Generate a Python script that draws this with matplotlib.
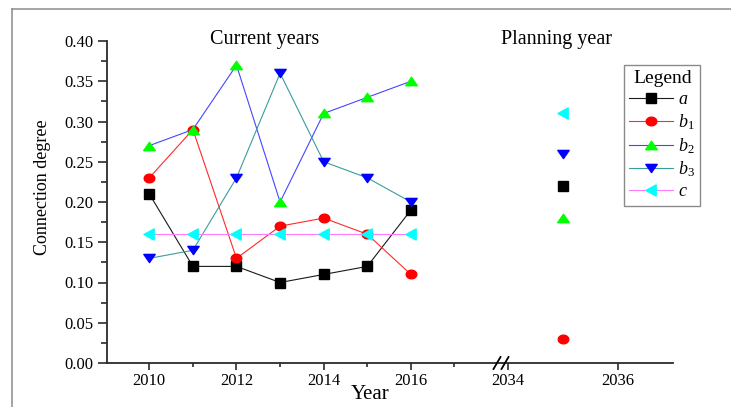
import numpy as np
import matplotlib
matplotlib.use("Agg")
import matplotlib.pyplot as plt
from matplotlib.path import Path
from matplotlib.lines import Line2D

# ---- data -------------------------------------------------------------
years_current = [2010, 2011, 2012, 2013, 2014, 2015, 2016]
year_planning = [2035]

a_current = [0.21, 0.12, 0.12, 0.10, 0.11, 0.12, 0.19]
b1_current = [0.23, 0.29, 0.13, 0.17, 0.18, 0.16, 0.11]
b2_current = [0.27, 0.29, 0.37, 0.20, 0.31, 0.33, 0.35]
b3_current = [0.13, 0.14, 0.23, 0.36, 0.25, 0.23, 0.20]
c_current = [0.16, 0.16, 0.16, 0.16, 0.16, 0.16, 0.16]

a_plan = [0.22]
b1_plan = [0.03]
b2_plan = [0.18]
b3_plan = [0.26]
c_plan = [0.31]

series_labels = [r"$a$", r"$b_1$", r"$b_2$", r"$b_3$", r"$c$"]
y_ticks = [0.00, 0.05, 0.10, 0.15, 0.20, 0.25, 0.30, 0.35, 0.40]
left_xticks = [2010, 2012, 2014, 2016]
left_minor = [2011, 2013, 2015, 2017]
right_xticks = [2034, 2036]

# ---- style ------------------------------------------------------------
plt.rcParams["font.family"] = ["Liberation Serif", "DejaVu Serif"]
plt.rcParams["mathtext.fontset"] = "custom"
plt.rcParams["mathtext.it"] = "Liberation Serif:italic"
plt.rcParams["mathtext.rm"] = "Liberation Serif"


def poly_marker(pts):
    pts = np.asarray(pts, float)
    verts = np.vstack([pts, pts[:1]])
    codes = [Path.MOVETO] + [Path.LINETO] * (len(pts) - 1) + [Path.CLOSEPOLY]
    return Path(verts, codes)


t = np.linspace(0, 2 * np.pi, 40, endpoint=False)
ellipse = poly_marker(np.column_stack([0.5 * np.cos(t), 0.41 * np.sin(t)]))
tri_up = poly_marker([(0, 0.36), (-0.5, -0.36), (0.5, -0.36)])
tri_down = poly_marker([(0, -0.36), (-0.5, 0.36), (0.5, 0.36)])
tri_left = poly_marker([(-0.5, 0), (0.42, 0.5), (0.42, -0.5)])

styles = [
    dict(color="#1a1a1a", marker="s", mfc="black", mec="black", ms=6.6),
    dict(color="#ff2a2a", marker=ellipse, mfc="red", mec="red", ms=7.6),
    dict(color="#4646ff", marker=tri_up, mfc="#00ff00", mec="#00ff00", ms=8.4),
    dict(color="#3a9c9c", marker=tri_down, mfc="#0000ff", mec="#0000ff", ms=8.2),
    dict(color="#ff7aff", marker=tri_left, mfc="#00ffff", mec="#00ffff", ms=8.0),
]
current = [a_current, b1_current, b2_current, b3_current, c_current]
planned = [a_plan, b1_plan, b2_plan, b3_plan, c_plan]

W, H = 731, 407
fig = plt.figure(figsize=(W / 100, H / 100), dpi=100)

x0, xb, x1 = 107, 502, 673
ytop, ybot = 41, 363
ax1 = fig.add_axes([x0 / W, 1 - ybot / H, (xb - x0) / W, (ybot - ytop) / H])
ax2 = fig.add_axes([xb / W, 1 - ybot / H, (x1 - xb) / W, (ybot - ytop) / H],
                   sharey=ax1)

handles = []
for vals, st in zip(current, styles):
    ln, = ax1.plot(years_current, vals, lw=0.8, clip_on=False, **st)
    handles.append(ln)
for vals, st in zip(planned, styles):
    ax2.plot(year_planning, vals, lw=0, clip_on=False, **st)

spine_c = "#2b2b2b"
ax1.set_xlim(2009.03, 2018.09)
ax2.set_xlim(2033.89, 2037.0)
ax1.set_ylim(0, 0.40)
ax1.set_yticks(y_ticks)
ax1.set_yticks(np.arange(0.025, 0.40, 0.05), minor=True)
ax1.set_yticklabels([f"{v:.2f}" for v in y_ticks])
ax1.set_xticks(left_xticks)
ax1.set_xticks(left_minor, minor=True)
ax2.set_xticks(right_xticks)

for ax in (ax1, ax2):
    for s in ("top", "right"):
        ax.spines[s].set_visible(False)
    ax.spines["bottom"].set_color(spine_c)
    ax.spines["bottom"].set_linewidth(1.3)
    ax.tick_params(axis="x", which="major", direction="out", length=5,
                   width=1.2, color=spine_c, labelsize=12, pad=2)
    ax.tick_params(axis="x", which="minor", direction="out", length=3,
                   width=1.2, color=spine_c)
ax1.spines["left"].set_color(spine_c)
ax1.spines["left"].set_linewidth(1.3)
ax2.spines["left"].set_visible(False)
ax1.tick_params(axis="y", which="major", direction="out", length=6.5,
                width=1.2, color=spine_c, labelsize=12, pad=3)
ax1.tick_params(axis="y", which="minor", direction="out", length=4,
                width=1.2, color=spine_c)
ax2.tick_params(axis="y", which="both", left=False, labelleft=False)

ax1.set_ylabel("Connection degree", fontsize=13)
ax1.yaxis.set_label_coords(-0.142, 0.547)
fig.text(370 / W, 1 - 399 / H, "Year", fontsize=15, ha="center",
         va="baseline")

ax1.text(0.40, 0.99, "Current years", transform=ax1.transAxes,
         fontsize=14.5, ha="center", va="baseline", clip_on=False)
ax2.text(0.316, 0.99, "Planning year", transform=ax2.transAxes,
         fontsize=14.5, ha="center", va="baseline", clip_on=False)

# axis-break marks on the x axis
for cx in (497, 505):
    fig.add_artist(Line2D([(cx - 3.5) / W, (cx + 3.5) / W],
                          [1 - (ybot + 6) / H, 1 - (ybot - 6) / H],
                          transform=fig.transFigure, color="black", lw=1.3))

leg = fig.legend(handles, series_labels, loc="upper left",
                 bbox_to_anchor=(624 / W, 1 - 65 / H), title="Legend",
                 title_fontsize=14, fontsize=13, numpoints=1,
                 frameon=True, fancybox=False, edgecolor="#8a8a8a",
                 framealpha=1, borderpad=0.3, borderaxespad=0,
                 handlelength=2.4, handletextpad=0.3, labelspacing=0.22)
leg.get_frame().set_linewidth(1.0)
for ln in leg.get_lines():
    ln.set_linewidth(0.8)

# outer frame lines
fig.add_artist(Line2D([12 / W, 1], [1 - 9 / H, 1 - 9 / H],
                      transform=fig.transFigure, color="#8c8c8c", lw=1.1))
fig.add_artist(Line2D([12 / W, 12 / W], [0, 1 - 9 / H],
                      transform=fig.transFigure, color="#8c8c8c", lw=1.1))

fig.savefig("out.png", dpi=100)
